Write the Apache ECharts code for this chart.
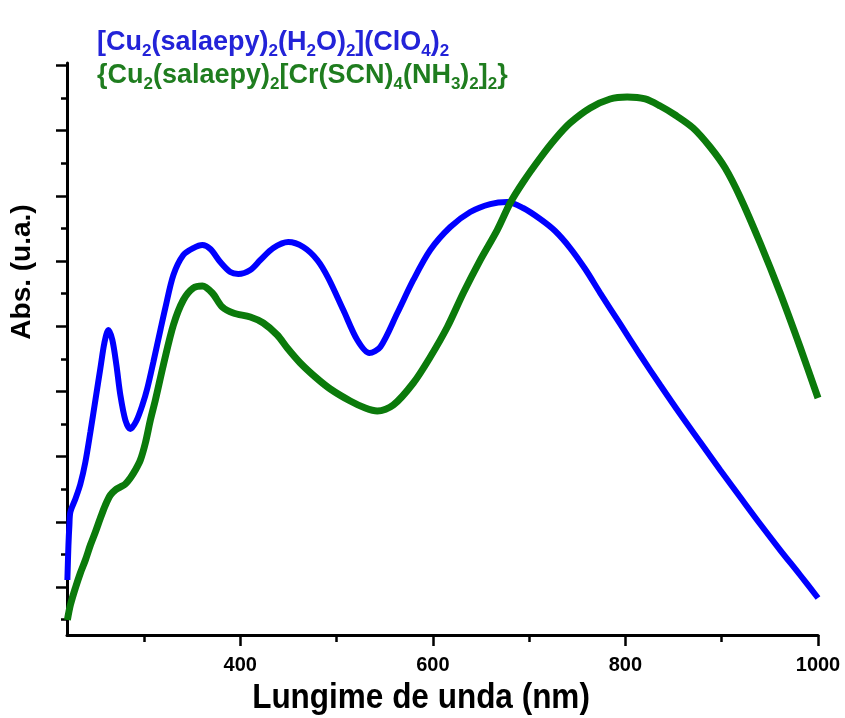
<!DOCTYPE html>
<html><head><meta charset="utf-8">
<script src="https://cdn.jsdelivr.net/npm/echarts@6/dist/echarts.min.js"></script>
<style>html,body{margin:0;padding:0;background:#fff}#c{width:845px;height:718px}</style>
</head><body><div id="c"></div>
<script>
// ---- data (wavelength in nm, absorbance in arbitrary units) ----
const blueWavelength = [220.4,221.5,222.5,223.5,228.7,233.9,239.1,244.3,249.5,254.7,258.8,263.0,267.1,271.3,275.4,280.6,285.8,292.0,298.3,303.5,309.7,317.0,322.1,330.5,340.8,351.2,360.6,368.9,379.2,389.6,397.9,410.4,420.8,434.3,449.8,465.4,480.0,491.4,507.0,521.5,534.0,545.4,563.1,579.7,597.3,618.1,638.8,659.6,677.2,693.8,711.5,727.0,742.6,758.2,773.8,794.5,815.3,836.1,856.8,877.6,898.4,919.1,939.9,960.7,981.4,1000];
const blueAbs = [1.107,1.644,1.951,2.150,2.350,2.580,2.917,3.377,3.868,4.359,4.742,4.942,4.788,4.405,3.945,3.561,3.423,3.546,3.791,4.052,4.451,4.942,5.279,5.785,6.092,6.199,6.245,6.184,5.985,5.831,5.801,5.862,6.015,6.199,6.291,6.215,6.015,5.739,5.248,4.788,4.589,4.681,5.202,5.709,6.169,6.521,6.752,6.874,6.905,6.813,6.644,6.460,6.199,5.877,5.509,5.034,4.558,4.098,3.653,3.224,2.794,2.380,1.966,1.567,1.184,0.831];
const greenWavelength = [220.4,223.5,228.7,233.9,239.1,244.3,249.5,254.7,259.9,265.1,270.2,275.4,280.6,285.8,291.0,296.2,301.4,306.6,311.8,320.1,330.5,340.8,351.2,360.6,370.9,381.3,392.7,410.4,423.9,438.4,448.8,462.3,477.9,493.5,514.2,529.8,542.3,558.9,579.7,597.3,615.0,631.6,649.2,666.8,680.3,693.8,711.5,727.0,742.6,763.4,784.1,801.8,820.5,836.1,851.7,870.3,888.0,903.6,919.1,939.9,960.7,981.4,1000];
const greenAbs = [0.494,0.724,0.985,1.215,1.414,1.644,1.844,2.058,2.258,2.411,2.488,2.534,2.580,2.672,2.794,2.948,3.209,3.561,3.868,4.405,5.018,5.402,5.586,5.617,5.509,5.294,5.202,5.141,5.049,4.865,4.666,4.436,4.221,4.037,3.853,3.745,3.699,3.791,4.129,4.528,4.988,5.509,6.015,6.475,6.890,7.212,7.580,7.871,8.117,8.347,8.485,8.515,8.485,8.377,8.239,8.040,7.748,7.426,6.982,6.276,5.509,4.681,3.899];
const xLabelTicks = [400, 600, 800, 1000];
const xMinorTicks = [300, 500, 700, 900];
const yMajorTicks = [1, 2, 3, 4, 5, 6, 7, 8, 9];
const yMinorTicks = [0.5, 1.5, 2.5, 3.5, 4.5, 5.5, 6.5, 7.5, 8.5];
const xTitle = 'Lungime de unda (nm)';
const yTitle = 'Abs. (u.a.)';
const blueLabel = '{a|[Cu}{s|2}{a|(salaepy)}{s|2}{a|(H}{s|2}{a|O)}{s|2}{a|](ClO}{s|4}{a|)}{s|2}';
const greenLabel = '{a|\u007b}{a|Cu}{s|2}{a|(salaepy)}{s|2}{a|[Cr(SCN)}{s|4}{a|(NH}{s|3}{a|)}{s|2}{a|]}{s|2}{a|\u007d}';

const FONT = "'Liberation Sans', Arial, sans-serif";
const BLUE = '#0000ff', GREEN = '#0b7a0b';
const X_MIN = 220, X_MAX = 1000, Y_MIN = 0.264, Y_MAX = 9.037;

function pairs(xs, ys) { return xs.map((x, i) => [x, ys[i]]); }
function rich(color) {
  return {
    a: {fontFamily: FONT, fontWeight: 'bold', fontSize: 27, color: color, lineHeight: 34},
    s: {fontFamily: FONT, fontWeight: 'bold', fontSize: 17, color: color, lineHeight: 15, verticalAlign: 'bottom'}
  };
}

const chart = echarts.init(document.getElementById('c'), null, {renderer: 'canvas'});
const axisCommon = {type: 'value', splitLine: {show: false}};
chart.setOption({
  animation: false,
  backgroundColor: '#fff',
  grid: {left: 67, right: 27, top: 63, bottom: 83},
  title: [
    {left: 97, top: 26, padding: 0, text: blueLabel,
     textStyle: {fontFamily: FONT, fontWeight: 'bold', fontSize: 27, color: '#2323d8', lineHeight: 34, rich: rich('#2323d8')}},
    {left: 97, top: 59, padding: 0, text: greenLabel,
     textStyle: {fontFamily: FONT, fontWeight: 'bold', fontSize: 27, color: '#1f7d1f', lineHeight: 34, rich: rich('#1f7d1f')}}
  ],
  xAxis: [
    Object.assign({}, axisCommon, {
      min: X_MIN, max: X_MAX,
      axisLine: {show: true, onZero: false, lineStyle: {color: '#000', width: 3}},
      axisTick: {show: true, length: 11, customValues: xLabelTicks, lineStyle: {color: '#000', width: 2.5}},
      axisLabel: {show: true, customValues: xLabelTicks, formatter: v => String(v), margin: 20,
                  fontFamily: FONT, fontWeight: 'bold', fontSize: 20, color: '#000'}
    }),
    Object.assign({}, axisCommon, {
      min: X_MIN, max: X_MAX, position: 'bottom',
      axisLine: {show: false},
      axisTick: {show: true, length: 7, customValues: xMinorTicks, lineStyle: {color: '#000', width: 2.5}},
      axisLabel: {show: false}
    })
  ],
  yAxis: [
    Object.assign({}, axisCommon, {
      min: Y_MIN, max: Y_MAX,
      axisLine: {show: true, onZero: false, lineStyle: {color: '#000', width: 3}},
      axisTick: {show: true, length: 11, customValues: yMajorTicks, lineStyle: {color: '#000', width: 2.5}},
      axisLabel: {show: false}
    }),
    Object.assign({}, axisCommon, {
      min: Y_MIN, max: Y_MAX, position: 'left',
      axisLine: {show: false},
      axisTick: {show: true, length: 6, customValues: yMinorTicks, lineStyle: {color: '#000', width: 2.5}},
      axisLabel: {show: false}
    })
  ],
  graphic: [
    {type: 'text', x: 421, y: 698, scaleX: 0.9, style: {text: xTitle, font: "bold 35px 'Liberation Sans', Arial", fill: '#000', textAlign: 'center', textVerticalAlign: 'middle'}},
    {type: 'text', x: 22, y: 272, rotation: Math.PI / 2, style: {text: yTitle, font: "bold 28px 'Liberation Sans', Arial", fill: '#000', textAlign: 'center', textVerticalAlign: 'middle'}}
  ],
  series: [
    {type: 'line', name: 'blue', xAxisIndex: 0, yAxisIndex: 0, data: pairs(blueWavelength, blueAbs),
     showSymbol: false, smooth: 0.3, lineStyle: {color: BLUE, width: 6}, z: 2},
    {type: 'line', name: 'green', xAxisIndex: 0, yAxisIndex: 0, data: pairs(greenWavelength, greenAbs),
     showSymbol: false, smooth: 0.3, lineStyle: {color: GREEN, width: 7}, z: 3}
  ]
});
</script>
</body></html>
